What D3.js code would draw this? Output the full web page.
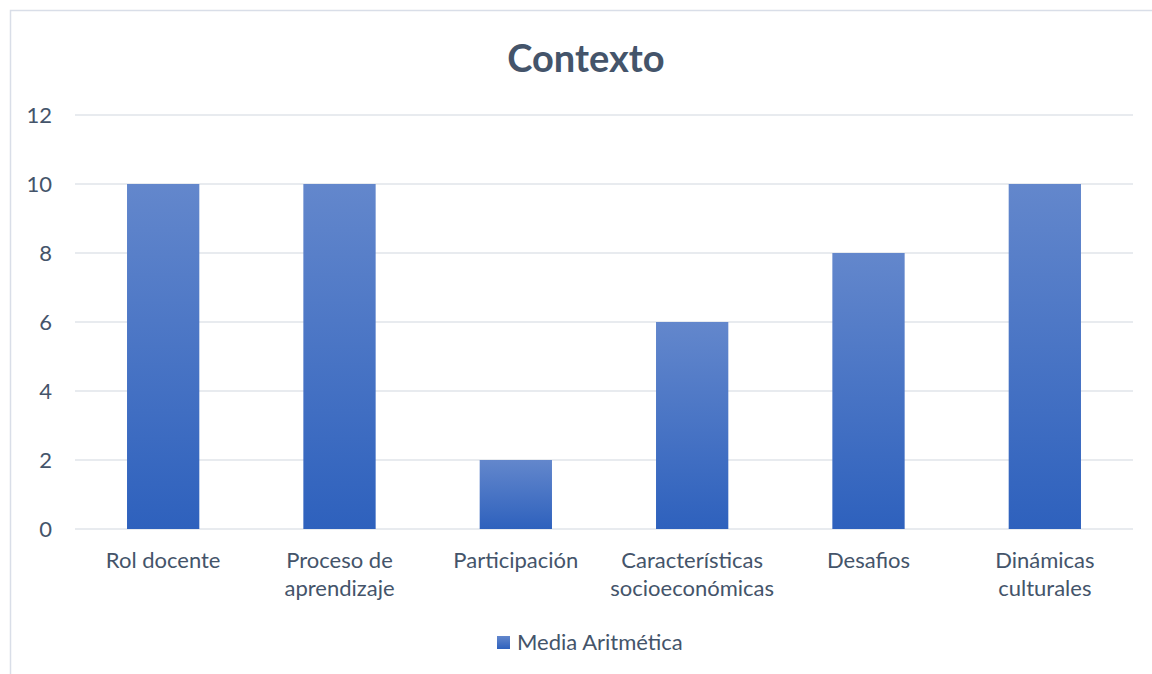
<!DOCTYPE html>
<html>
<head>
<meta charset="utf-8">
<script src="https://cdn.jsdelivr.net/npm/d3@7"></script>
<style>
  body { margin: 0; background: #fff; }
  text { font-family: Lato, "Open Sans", sans-serif; }
</style>
</head>
<body>
<div id="chart"></div>
<script>
// data
const categories = ['Rol docente', 'Proceso de aprendizaje', 'Participación', 'Características socioeconómicas', 'Desafios', 'Dinámicas culturales'];
const labelLines = [['Rol docente'], ['Proceso de', 'aprendizaje'], ['Participación'], ['Características', 'socioeconómicas'], ['Desafios'], ['Dinámicas', 'culturales']];
const values = [10, 10, 2, 6, 8, 10];
const yTicks = [0, 2, 4, 6, 8, 10, 12];
const seriesName = 'Media Aritmética';
const title = 'Contexto';

const W = 1152, H = 674;
const textColor = '#44546A';
const fontSize = 22;
const margin = { top: 115, right: 19, bottom: 145, left: 75 };
const chartWidth = W - margin.left - margin.right;
const chartHeight = H - margin.top - margin.bottom;

const svg = d3.select('#chart')
    .append('svg')
    .attr('width', W)
    .attr('height', H);

// chart frame
svg.append('rect')
    .attr('x', 10.5).attr('y', 10.5)
    .attr('width', W).attr('height', H)
    .attr('fill', '#fff')
    .attr('stroke', '#D9DEE8')
    .attr('stroke-width', 1.5);

const defs = svg.append('defs');
const grad = defs.append('linearGradient')
    .attr('id', 'barGrad')
    .attr('x1', 0).attr('y1', 0).attr('x2', 0).attr('y2', 1);
grad.append('stop').attr('offset', '0%').attr('stop-color', '#6387CC');
grad.append('stop').attr('offset', '100%').attr('stop-color', '#2E61BD');

svg.append('text')
    .attr('x', 586)
    .attr('y', 72)
    .attr('text-anchor', 'middle')
    .attr('font-size', 38)
    .attr('font-weight', 'bold')
    .attr('fill', textColor)
    .text(title);

const g = svg.append('g')
    .attr('transform', 'translate(' + margin.left + ',' + margin.top + ')');

const x = d3.scaleBand()
    .domain(categories)
    .range([0, chartWidth])
    .paddingInner(0.59)
    .paddingOuter(0.295);

const y = d3.scaleLinear()
    .domain([0, 12])
    .range([chartHeight, 0]);

// gridlines
g.selectAll('.grid')
    .data(yTicks)
    .enter()
    .append('line')
    .attr('x1', 0)
    .attr('x2', chartWidth)
    .attr('y1', d => y(d))
    .attr('y2', d => y(d))
    .attr('stroke', '#E1E4EA')
    .attr('stroke-width', 1.5);

const yAxis = g.append('g')
    .call(d3.axisLeft(y).tickValues(yTicks).tickSize(0).tickPadding(23));
yAxis.select('.domain').remove();
yAxis.selectAll('text')
    .attr('font-size', fontSize)
    .attr('fill', textColor)
    .style('font-family', 'Lato, "Open Sans", sans-serif');

g.selectAll('.bar')
    .data(values)
    .enter()
    .append('rect')
    .attr('x', (d, i) => x(categories[i]))
    .attr('y', d => y(d))
    .attr('width', x.bandwidth())
    .attr('height', d => chartHeight - y(d))
    .attr('fill', 'url(#barGrad)');

// category labels
const labels = g.selectAll('.cat')
    .data(categories)
    .enter()
    .append('text')
    .attr('text-anchor', 'middle')
    .attr('font-size', fontSize)
    .attr('fill', textColor)
    .attr('transform', d => 'translate(' + (x(d) + x.bandwidth() / 2) + ',' + (chartHeight + 39) + ')');
labels.selectAll('tspan')
    .data((d, i) => labelLines[i])
    .enter()
    .append('tspan')
    .attr('x', 0)
    .attr('dy', (d, i) => i === 0 ? 0 : 28)
    .text(d => d);

// legend
const legend = svg.append('g').attr('transform', 'translate(497,636)');
legend.append('rect')
    .attr('width', 13).attr('height', 13)
    .attr('fill', 'url(#barGrad)');
legend.append('text')
    .attr('x', 20).attr('y', 14)
    .attr('font-size', fontSize)
    .attr('fill', textColor)
    .text(seriesName);
</script>
</body>
</html>
